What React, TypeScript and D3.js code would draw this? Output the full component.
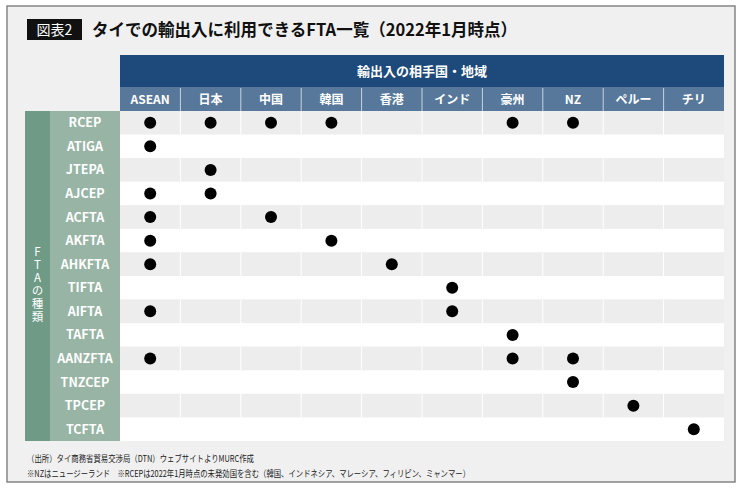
import React from 'react';
import * as d3 from 'd3';

const COLUMNS = ['ASEAN', '日本', '中国', '韓国', '香港', 'インド', '豪州', 'NZ', 'ペルー', 'チリ'];
const FTAS = ['RCEP', 'ATIGA', 'JTEPA', 'AJCEP', 'ACFTA', 'AKFTA', 'AHKFTA', 'TIFTA', 'AIFTA', 'TAFTA', 'AANZFTA', 'TNZCEP', 'TPCEP', 'TCFTA'];
const PARTNERS: string[][] = [
  ['ASEAN', '日本', '中国', '韓国', '豪州', 'NZ'],
  ['ASEAN'],
  ['日本'],
  ['ASEAN', '日本'],
  ['ASEAN', '中国'],
  ['ASEAN', '韓国'],
  ['ASEAN', '香港'],
  ['インド'],
  ['ASEAN', 'インド'],
  ['豪州'],
  ['ASEAN', '豪州', 'NZ'],
  ['NZ'],
  ['ペルー'],
  ['チリ'],
];
const TITLE = 'タイでの輸出入に利用できるFTA一覧（2022年1月時点）';
const HEADER = '輸出入の相手国・地域';
const SIDE_LABEL = 'FTAの種類';
const NOTES = [
  '（出所）タイ商務省貿易交渉局（DTN）ウェブサイトよりMURC作成',
  '※NZはニュージーランド　※RCEPは2022年1月時点の未発効国を含む（韓国、インドネシア、マレーシア、フィリピン、ミャンマー）',
];

const W = 740;
const H = 491;
const FONT = '"Noto Sans CJK JP", "Noto Sans", sans-serif';

const App = () => {
  const x = d3.scaleBand<string>().domain(COLUMNS).range([120, 724]);
  const y = d3.scaleBand<string>().domain(FTAS).range([111, 441]);
  const bw = x.bandwidth();
  const bh = y.bandwidth();

  return (
    <svg
      width={W}
      height={H}
      style={{ position: 'absolute', left: 0, top: 0, display: 'block' }}
      fontFamily={FONT}
    >
      <rect x={0} y={0} width={W} height={H} fill="#fff" />
      <rect x={7} y={6} width={728} height={476} fill="#f0f0f0" stroke="#858585" strokeWidth={1.5} />

      {/* title */}
      <rect x={27} y={19} width={55} height={21} fill="#111" />
      <text x={54.5} y={35} fill="#fff" fontSize={14} textAnchor="middle">図表2</text>
      <text x={92} y={36} fontSize={17} fontWeight="bold" fill="#111" textLength={425} lengthAdjust="spacingAndGlyphs">{TITLE}</text>

      {/* header */}
      <rect x={120} y={55} width={604} height={32} fill="#1d4a7b" />
      <text x={422} y={76} fill="#fff" fontSize={13} fontWeight="bold" textAnchor="middle">{HEADER}</text>
      <rect x={120} y={87} width={604} height={24} fill="#57789b" />
      {COLUMNS.map((c, i) => (
        <g key={c}>
          {i > 0 && <line x1={x(c)} x2={x(c)} y1={88} y2={111} stroke="#c8d3df" strokeWidth={1} />}
          <text x={(x(c) as number) + bw / 2} y={104} fill="#fff" fontSize={12} fontWeight="bold" textAnchor="middle">{c}</text>
        </g>
      ))}

      {/* rows */}
      {FTAS.map((f, i) => {
        const ry = y(f) as number;
        return (
          <g key={f}>
            <rect x={120} y={ry} width={604} height={bh} fill={i % 2 === 0 ? '#ededed' : '#ffffff'} />
            {i % 2 === 0 && COLUMNS.slice(1).map(c => (
              <line key={c} x1={x(c)} x2={x(c)} y1={ry} y2={ry + bh} stroke="#fff" strokeWidth={1} />
            ))}
          </g>
        );
      })}

      {/* left labels */}
      <rect x={25} y={111} width={25} height={330} fill="#6f9a85" />
      <rect x={50} y={111} width={70} height={330} fill="#97b4a5" />
      <text
        x={37.5}
        y={246}
        fill="#fff"
        fontSize={11.5}
        letterSpacing={1.5}
        style={{ writingMode: 'vertical-rl', textOrientation: 'upright' }}
      >
        {SIDE_LABEL}
      </text>
      {FTAS.map(f => (
        <text key={f} x={85} y={(y(f) as number) + bh / 2 + 4.5} fill="#fff" fontSize={12.5} fontWeight="bold" textAnchor="middle">{f}</text>
      ))}

      {/* dots */}
      {FTAS.map((f, i) => PARTNERS[i].map(p => (
        <circle key={f + p} cx={(x(p) as number) + bw / 2} cy={(y(f) as number) + bh / 2} r={6} fill="#000" />
      )))}

      {/* notes */}
      <text x={27} y={462} fontSize={9} fill="#222" textLength={227} lengthAdjust="spacingAndGlyphs">{NOTES[0]}</text>
      <text x={27} y={477} fontSize={9} fill="#222" textLength={443} lengthAdjust="spacingAndGlyphs">{NOTES[1]}</text>
    </svg>
  );
};

export default App;
